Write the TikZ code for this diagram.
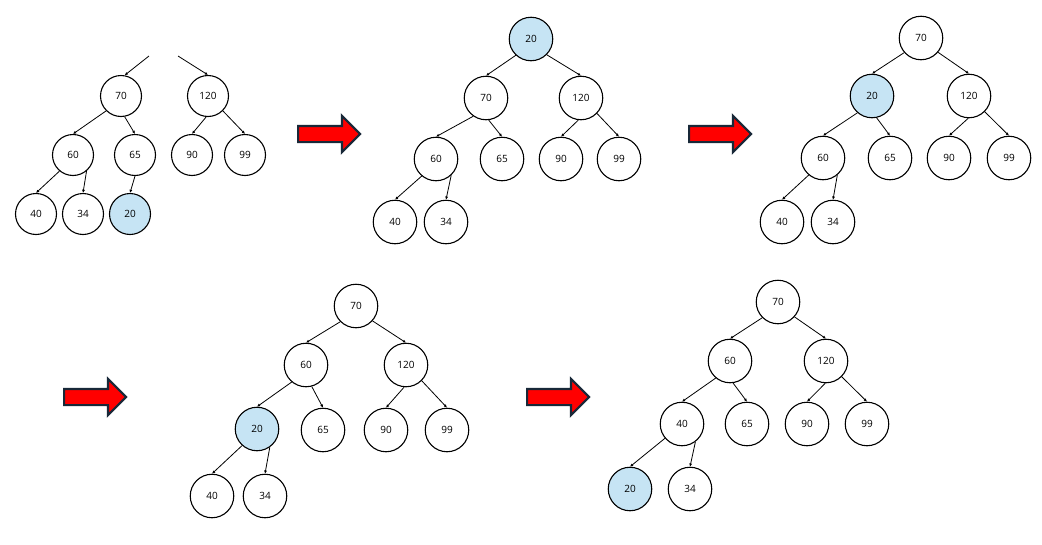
\documentclass[tikz,border=0pt]{standalone}
\usepackage{fontspec}
\setmainfont{Open Sans}
\usepackage{xcolor}
\usepackage{tikz}
\usetikzlibrary{shapes,arrows.meta,positioning}
\definecolor{hilite}{RGB}{198,228,244}
\definecolor{arrowline}{RGB}{24,40,56}
\tikzset{
    circ/.style={circle, draw, line width=1.1pt, minimum size=43.5pt, inner sep=0pt, font=\fontsize{10}{12}\selectfont},
    small/.style={circ, minimum size=41pt},
    hot/.style={fill=hilite},
    link/.style={draw, -{Latex[length=3.2pt,width=3pt]}, line width=0.8pt},
    bigarrow/.style={single arrow, draw=arrowline, fill=red, line width=2.2pt, minimum height=62pt, inner xsep=0pt, inner ysep=7pt, single arrow head extend=10pt, single arrow tip angle=90, anchor=tail}
}

\begin{document}
\begin{tikzpicture}[x=1pt, y=-1pt]
    \useasboundingbox (0,0) rectangle (1042,544);
    % Step 1: 20 added at the bottom
    \node[small] (a70) at (121,96) {70};
    \node[small] (a120) at (208,96) {120};
    \node[small] (a60) at (73,155) {60};
    \node[small] (a65) at (135,155) {65};
    \node[small] (a90) at (192,155) {90};
    \node[small] (a99) at (245,155) {99};
    \node[small] (a40) at (36,214) {40};
    \node[small] (a34) at (83,214) {34};
    \node[small, hot] (a20) at (130,214) {20};
    \coordinate (a-l) at (149,56);
    \coordinate (a-r) at (178,56);
    \draw[link] (a-l) -- (a70.80);
    \draw[link] (a-r) -- (a120.north);
    \draw[link] (a70.-135) -- (a60.north);
    \draw[link] (a70.-80) -- (a65.north);
    \draw[link] (a120.-95) -- (a90.north);
    \draw[link] (a120.-45) -- (a99.north);
    \draw[link] (a60.-130) -- (a40.north);
    \draw[link] (a60.-50) -- (a34.north);
    \draw[link] (a65.south) -- (a20.north);

    \node[bigarrow] (arr1) at (297,134) {};

    % Step 2: 20 moved to the root
    \node[circ, hot] (b20) at (531,39) {20};
    \node[circ] (b70) at (486,98) {70};
    \node[circ] (b120) at (581,98) {120};
    \node[circ] (b60) at (436,159) {60};
    \node[circ] (b65) at (502,159) {65};
    \node[circ] (b90) at (561,159) {90};
    \node[circ] (b99) at (619,159) {99};
    \node[circ] (b40) at (395,222) {40};
    \node[circ] (b34) at (446,222) {34};
    \draw[link] (b20.-133) -- (b70.north);
    \draw[link] (b20.-45) -- (b120.north);
    \draw[link] (b70.-125) -- (b60.north);
    \draw[link] (b70.-83) -- (b65.north);
    \draw[link] (b120.-97) -- (b90.north);
    \draw[link] (b120.-44) -- (b99.north);
    \draw[link] (b60.-130) -- (b40.north);
    \draw[link] (b60.-47) -- (b34.north);

    \node[bigarrow] (arr2) at (688,134) {};

    % Step 3: 20 swapped with 70
    \node[circ] (c70) at (921,38) {70};
    \node[circ, hot] (c20) at (872,96) {20};
    \node[circ] (c120) at (969,96) {120};
    \node[circ] (c60) at (823,158) {60};
    \node[circ] (c65) at (890,158) {65};
    \node[circ] (c90) at (949,158) {90};
    \node[circ] (c99) at (1009,158) {99};
    \node[circ] (c40) at (782,222) {40};
    \node[circ] (c34) at (833,222) {34};
    \draw[link] (c70.-139) -- (c20.north);
    \draw[link] (c70.-40) -- (c120.north);
    \draw[link] (c20.-131) -- (c60.north);
    \draw[link] (c20.-78) -- (c65.north);
    \draw[link] (c120.-92) -- (c90.north);
    \draw[link] (c120.-45) -- (c99.north);
    \draw[link] (c60.-130) -- (c40.north);
    \draw[link] (c60.-50) -- (c34.north);

    \node[bigarrow] (arr3) at (63,397) {};

    % Step 4: 20 swapped with 60
    \node[circ] (d70) at (356,306) {70};
    \node[circ] (d60) at (306,365) {60};
    \node[circ] (d120) at (406,365) {120};
    \node[circ, hot] (d20) at (257,429) {20};
    \node[circ] (d65) at (323,430) {65};
    \node[circ] (d90) at (386,430) {90};
    \node[circ] (d99) at (447,430) {99};
    \node[circ] (d40) at (212,496) {40};
    \node[circ] (d34) at (265,496) {34};
    \draw[link] (d70.-135) -- (d60.north);
    \draw[link] (d70.-42) -- (d120.north);
    \draw[link] (d60.-130) -- (d20.north);
    \draw[link] (d60.-75) -- (d65.north);
    \draw[link] (d120.-95) -- (d90.north);
    \draw[link] (d120.-45) -- (d99.north);
    \draw[link] (d20.-132) -- (d40.north);
    \draw[link] (d20.-55) -- (d34.north);

    \node[bigarrow] (arr4) at (526,397) {};

    % Step 5: 20 swapped with 40
    \node[circ] (e70) at (778,302) {70};
    \node[circ] (e60) at (730,361) {60};
    \node[circ] (e120) at (826,361) {120};
    \node[circ] (e40) at (682,424) {40};
    \node[circ] (e65) at (747,424) {65};
    \node[circ] (e90) at (807,424) {90};
    \node[circ] (e99) at (867,424) {99};
    \node[circ, hot] (e20) at (630,489) {20};
    \node[circ] (e34) at (690,489) {34};
    \draw[link] (e70.-135) -- (e60.north);
    \draw[link] (e70.-42) -- (e120.north);
    \draw[link] (e60.-130) -- (e40.north);
    \draw[link] (e60.-82) -- (e65.north);
    \draw[link] (e120.-92) -- (e90.north);
    \draw[link] (e120.-45) -- (e99.north);
    \draw[link] (e40.-140) -- (e20.north);
    \draw[link] (e40.-53) -- (e34.north);
\end{tikzpicture}
\end{document}
